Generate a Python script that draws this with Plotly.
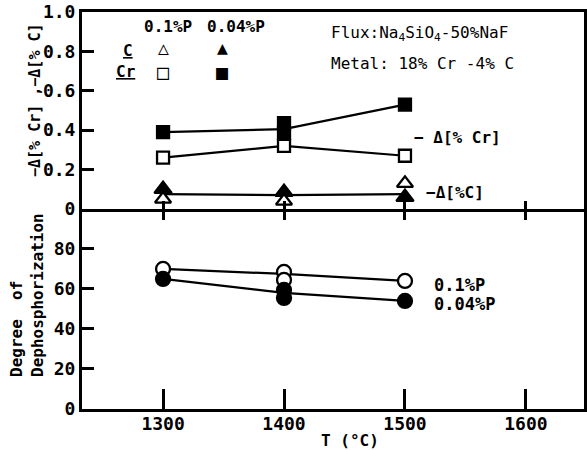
import plotly.graph_objects as go

# ---------------- data ----------------
T = [1300, 1400, 1500]
# top panel: -Δ[%Cr], -Δ[%C]
cr_p01 = [0.26, 0.32, 0.27]          # open squares (0.1%P)
cr_p004 = [0.39, 0.435, 0.53]        # filled squares (0.04%P)
cr_p004_rep = [None, 0.385, None]    # repeated run at 1400
cr_p004_trend = [0.39, 0.405, 0.53]
c_p01 = [0.05, 0.04, 0.13]           # open triangles
c_p004 = [0.10, 0.085, 0.06]         # filled triangles
c_trend = [0.075, 0.07, 0.075]
# bottom panel: degree of dephosphorization
dp_p01 = [70, 68.5, 64]
dp_p01_rep = [None, 64.5, None]
dp_p01_trend = [70, 67.5, 64]
dp_p004 = [65, 59.5, 54]
dp_p004_rep = [None, 55.5, None]
dp_p004_trend = [65, 58, 54]

x_ticks = [1300, 1400, 1500, 1600]
top_ticks = [0, 0.2, 0.4, 0.6, 0.8, 1.0]
top_ticktext = ["0", "0.2", "0.4", "0.6", "0.8", "1.0"]
bot_ticks = [0, 20, 40, 60, 80]

FONT = "DejaVu Sans Mono"
BLK = "black"

fig = go.Figure()

def line(x, y, xa, ya):
    fig.add_trace(go.Scatter(x=x, y=y, mode="lines", xaxis=xa, yaxis=ya,
                             line=dict(color=BLK, width=2.2), showlegend=False,
                             hoverinfo="skip"))

def pts(x, y, xa, ya, symbol, size, filled):
    fig.add_trace(go.Scatter(x=x, y=y, mode="markers", xaxis=xa, yaxis=ya,
                             marker=dict(symbol=symbol, size=size,
                                         color=BLK if filled else "white",
                                         line=dict(color=BLK, width=2.3)),
                             showlegend=False))

# top panel
line(T, cr_p004_trend, "x2", "y2")
line(T, cr_p01, "x2", "y2")
line(T, c_trend, "x2", "y2")
pts(T, cr_p004, "x2", "y2", "square", 12, True)
pts(T, cr_p004_rep, "x2", "y2", "square", 12, True)
pts(T, cr_p01, "x2", "y2", "square", 12, False)
pts(T, c_p004, "x2", "y2", "triangle-up", 15, True)
pts(T, c_p01, "x2", "y2", "triangle-up", 14, False)

# bottom panel
line(T, dp_p01_trend, "x", "y")
line(T, dp_p004_trend, "x", "y")
pts(T, dp_p01, "x", "y", "circle", 14, False)
pts(T, dp_p01_rep, "x", "y", "circle", 14, False)
pts(T, dp_p004, "x", "y", "circle", 14, True)
pts(T, dp_p004_rep, "x", "y", "circle", 14, True)

XR = [1233, 1648]
SPLIT = 0.504
tickfont = dict(family=FONT, size=18, color=BLK, weight="bold")

fig.update_layout(
    width=587, height=450,
    margin=dict(l=82, r=3, t=12, b=41, autoexpand=False),
    paper_bgcolor="white", plot_bgcolor="white",
    font=dict(family=FONT, color=BLK),
    xaxis=dict(range=XR, domain=[0, 1], anchor="y", tickvals=x_ticks,
               ticks="inside", ticklen=20, tickwidth=2.5, tickcolor=BLK,
               showline=True, linewidth=3, linecolor=BLK, mirror=False,
               ticklabelstandoff=-4,
               showgrid=False, zeroline=False, tickfont=tickfont, automargin=False),
    yaxis=dict(range=[0, 100], domain=[0, SPLIT], anchor="x", tickvals=bot_ticks,
               ticks="inside", ticklen=12, tickwidth=2.5, tickcolor=BLK,
               showline=True, linewidth=3, linecolor=BLK, mirror=True,
               showgrid=False, zeroline=False, tickfont=tickfont, automargin=False),
    xaxis2=dict(range=XR, domain=[0, 1], anchor="y2", tickvals=x_ticks,
                ticks="outside", ticklen=8, tickwidth=2.5, tickcolor=BLK,
                showticklabels=False,
                showline=True, linewidth=3, linecolor=BLK, mirror=True,
                showgrid=False, zeroline=False, automargin=False),
    xaxis3=dict(range=XR, overlaying="x2", anchor="y2", tickvals=x_ticks,
                ticks="inside", ticklen=8, tickwidth=2.5, tickcolor=BLK,
                showticklabels=False, showline=False,
                showgrid=False, zeroline=False, automargin=False),
    yaxis2=dict(range=[0, 1.0], domain=[SPLIT, 1], anchor="x2", tickvals=top_ticks,
                ticktext=top_ticktext,
                ticks="inside", ticklen=12, tickwidth=2.5, tickcolor=BLK,
                showline=True, linewidth=3, linecolor=BLK, mirror=True,
                showgrid=False, zeroline=False, tickfont=tickfont, automargin=False),
)

# dummy trace to activate xaxis3
fig.add_trace(go.Scatter(x=[None], y=[None], xaxis="x3", yaxis="y2",
                         showlegend=False, hoverinfo="skip"))

def px(xp):
    return (xp - 82) / 502.0

def py(yp):
    return (409 - yp) / 397.0

def ann(text, x, y, size=16, xanchor="center", yanchor="middle", angle=0,
        align="center", weight="normal"):
    fig.add_annotation(text=text, x=x, y=y, xref="paper", yref="paper",
                       xanchor=xanchor, yanchor=yanchor, textangle=angle,
                       align=align, showarrow=False, borderpad=0,
                       font=dict(family=FONT, size=size, color=BLK, weight=weight))

# axis titles
ann("−Δ[% Cr] ,−Δ[% C]", px(35), py(100), size=15, angle=-90, weight="bold")
ann("Degree  of<br>Dephosphorization", px(27), py(295), size=16, angle=-90,
    align="left", weight="bold")
ann("T (°C)", px(350), py(440), size=16, weight="bold")

# key in top-left
ann("0.1%P", px(168), py(27), size=16, weight="bold")
ann("0.04%P", px(236), py(27), size=16, weight="bold")
ann("<u>C</u>", px(128), py(50), size=16, weight="bold")
ann("<u>Cr</u>", px(125), py(72), size=16, weight="bold")
ann("△", px(163), py(48), size=18)
ann("▲", px(222), py(48), size=18)
ann("□", px(163), py(72), size=20)
ann("■", px(222), py(72), size=20)

# notes
ann("Flux:Na<sub>4</sub>SiO<sub>4</sub>-50%NaF", px(330), py(33), size=16, xanchor="left")
ann("Metal: 18% Cr -4% C", px(330), py(63), size=16, xanchor="left")
ann("− Δ[% Cr]", px(413), py(137), size=16, xanchor="left", weight="bold")
ann("−Δ[%C]", px(425), py(193), size=16, xanchor="left", weight="bold")
ann("0.1%P", px(433), py(285), size=17, xanchor="left", weight="bold")
ann("0.04%P", px(433), py(304), size=17, xanchor="left", weight="bold")

fig.write_html("out.html",
               config={"displayModeBar": False},
               post_script="document.body.style.margin='0';document.body.style.padding='0';")
